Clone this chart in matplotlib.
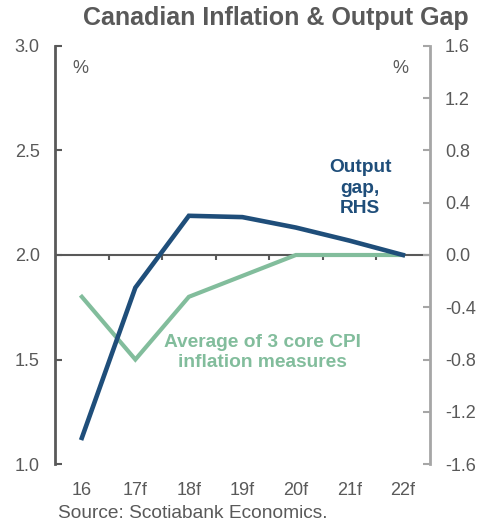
import matplotlib.pyplot as plt

years = ['16', '17f', '18f', '19f', '20f', '21f', '22f']
core_cpi = [1.8, 1.5, 1.8, 1.9, 2.0, 2.0, 2.0]
output_gap = [-1.40, -0.25, 0.30, 0.29, 0.21, 0.11, 0.0]

left_ticks = [1.0, 1.5, 2.0, 2.5, 3.0]
right_ticks = [-1.6, -1.2, -0.8, -0.4, 0.0, 0.4, 0.8, 1.2, 1.6]

blue = '#1f4e7a'
green = '#82bd9c'
grey = '#595959'

plt.rcParams['font.family'] = ['Liberation Sans', 'DejaVu Sans']

fig = plt.figure(figsize=(4.79, 5.22), dpi=100)
ax = fig.add_axes([0.115, 0.111, 0.782, 0.801])
ax2 = ax.twinx()

x = list(range(len(years)))
ax.plot(x, core_cpi, color=green, lw=3.0, solid_joinstyle='miter', zorder=3)
ax2.plot(x, output_gap, color=blue, lw=3.3, solid_joinstyle='miter', zorder=4)

ax.set_xlim(-0.5, len(years) - 0.5)
ax.set_ylim(1.0, 3.0)
ax2.set_ylim(-1.6, 1.6)

# zero line with ticks between categories
ax.axhline(2.0, color=grey, lw=1.5, zorder=2)
ax.vlines([i + 0.5 for i in range(len(years) - 1)], 1.975, 2.0,
          color=grey, lw=1.5, zorder=2)

ax.set_xticks(x)
ax.set_xticklabels(years)
ax.tick_params(axis='x', length=0, pad=13, labelsize=13, labelcolor=grey)

ax.set_yticks(left_ticks)
ax.set_yticklabels([f'{v:.1f}' for v in left_ticks])
ax.tick_params(axis='y', direction='in', length=5, width=1.5, color=grey,
               labelsize=13, labelcolor=grey, pad=11)
ax2.set_yticks(right_ticks)
ax2.set_yticklabels([f'{v:.1f}' for v in right_ticks])
ax2.tick_params(axis='y', direction='in', length=5, width=1.5, color='#a6a6a6',
                labelsize=13, labelcolor=grey, pad=11)

for a in (ax, ax2):
    a.spines['top'].set_visible(False)
    a.spines['bottom'].set_visible(False)
    a.patch.set_visible(False)
ax.spines['left'].set_color(grey)
ax.spines['left'].set_linewidth(2)
ax.spines['right'].set_visible(False)
ax2.spines['left'].set_visible(False)
ax2.spines['right'].set_color('#a6a6a6')
ax2.spines['right'].set_linewidth(2)

ax.text(0.067, 0.947, '%', transform=ax.transAxes, fontsize=13, color=grey,
        ha='center', va='center')
ax.text(0.921, 0.947, '%', transform=ax.transAxes, fontsize=13, color=grey,
        ha='center', va='center')

ax2.text(5.2, 0.51, 'Output\ngap,\nRHS', color=blue, fontsize=13.8,
         fontweight='bold', ha='center', va='center', linespacing=1.27)
ax.text(3.38, 1.535, 'Average of 3 core CPI\ninflation measures', color=green,
        fontsize=13.8, fontweight='bold', ha='center', va='center', linespacing=1.22)

fig.text(0.575, 0.965, 'Canadian Inflation & Output Gap', ha='center', va='center',
         fontsize=18, fontweight='bold', color=grey)
fig.text(0.121, 0.017, 'Source: Scotiabank Economics.', ha='left', va='center',
         fontsize=13.8, color=grey)

fig.savefig('out.png', dpi=100)
